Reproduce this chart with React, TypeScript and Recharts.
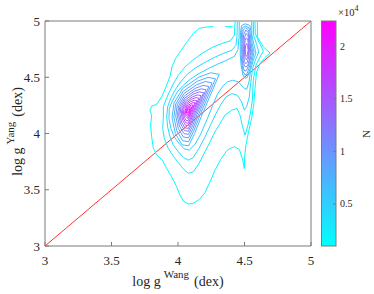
import React from 'react';
import { ScatterChart, Scatter, XAxis, YAxis, ReferenceLine } from 'recharts';

const FONT = "'Liberation Serif', 'Times New Roman', Tinos, 'DejaVu Serif', serif";
const AXIS_COLOR = '#7a7a7a';
const TEXT_COLOR = '#262626';

const X_TICKS = [3, 3.5, 4, 4.5, 5];
const Y_TICKS = [3, 3.5, 4, 4.5, 5];
const CB_TICKS = [5000, 10000, 15000, 20000];
const CB_MIN = 1000;
const CB_MAX = 22400;
const DIAGONAL = [{ x: 3, y: 3 }, { x: 5, y: 5 }];

type Pt = [number, number];

// outer contours enclosing both peaks
const c1: Pt[] = [[4.597,4.994],[4.597,4.858],[4.642,4.769],[4.692,4.716],[4.654,4.675],[4.617,4.621],[4.591,4.547],[4.581,4.432],[4.569,4.254],[4.554,4.136],[4.531,4.018],[4.511,3.899],[4.501,3.793],[4.499,3.689],[4.484,3.778],[4.461,3.858],[4.424,3.882],[4.391,3.867],[4.366,3.846],[4.321,3.769],[4.278,3.675],[4.241,3.571],[4.203,3.473],[4.160,3.414],[4.115,3.379],[4.078,3.373],[4.040,3.399],[4.015,3.453],[3.990,3.527],[3.952,3.615],[3.915,3.689],[3.882,3.763],[3.840,3.808],[3.815,3.867],[3.802,3.970],[3.794,4.074],[3.802,4.163],[3.789,4.207],[3.802,4.243],[3.840,4.260],[3.877,4.325],[3.910,4.414],[3.940,4.509],[3.955,4.592],[3.982,4.666],[4.023,4.740],[4.070,4.817],[4.115,4.888],[4.160,4.935],[4.216,4.947],[4.266,4.950]];
const c1b: Pt[] = [[4.353,4.950],[4.411,4.950]];
const c2: Pt[] = [[4.579,4.994],[4.581,4.888],[4.612,4.805],[4.642,4.734],[4.617,4.680],[4.586,4.607],[4.566,4.473],[4.559,4.296],[4.544,4.178],[4.526,4.074],[4.504,3.985],[4.486,4.059],[4.466,4.163],[4.444,4.222],[4.404,4.207],[4.353,4.163],[4.316,4.089],[4.278,4.015],[4.241,3.926],[4.203,3.837],[4.158,3.734],[4.115,3.660],[4.078,3.645],[4.040,3.686],[4.003,3.740],[3.965,3.799],[3.927,3.867],[3.897,3.956],[3.885,4.044],[3.890,4.148],[3.890,4.237],[3.910,4.302],[3.935,4.370],[3.965,4.444],[4.003,4.518],[4.053,4.592],[4.110,4.651],[4.178,4.710],[4.253,4.763],[4.328,4.799],[4.391,4.822],[4.424,4.873],[4.429,4.994]];
const c3: Pt[] = [[4.566,4.994],[4.569,4.873],[4.591,4.793],[4.607,4.725],[4.586,4.666],[4.561,4.577],[4.546,4.444],[4.536,4.325],[4.516,4.237],[4.499,4.207],[4.479,4.281],[4.446,4.340],[4.404,4.355],[4.361,4.325],[4.323,4.260],[4.286,4.178],[4.248,4.083],[4.203,3.970],[4.158,3.867],[4.115,3.787],[4.078,3.763],[4.040,3.787],[4.003,3.837],[3.965,3.896],[3.940,3.970],[3.922,4.059],[3.915,4.148],[3.922,4.237],[3.945,4.311],[3.977,4.385],[4.020,4.459],[4.070,4.527],[4.128,4.580],[4.195,4.627],[4.266,4.672],[4.336,4.710],[4.404,4.740],[4.436,4.784],[4.444,4.873],[4.446,4.994]];
const c4: Pt[] = [[4.554,4.994],[4.556,4.873],[4.574,4.775],[4.586,4.716],[4.566,4.651],[4.546,4.562],[4.534,4.459],[4.516,4.391],[4.491,4.408],[4.454,4.459],[4.411,4.473],[4.371,4.459],[4.336,4.420],[4.296,4.349],[4.261,4.251],[4.221,4.133],[4.173,4.000],[4.128,3.905],[4.085,3.852],[4.045,3.864],[4.008,3.911],[3.972,3.970],[3.947,4.044],[3.932,4.133],[3.935,4.222],[3.960,4.296],[3.995,4.370],[4.040,4.429],[4.095,4.485],[4.158,4.533],[4.228,4.577],[4.296,4.615],[4.366,4.651],[4.424,4.686],[4.451,4.746],[4.459,4.858],[4.461,4.994]];

// main peak (log g ~ 4.07)
const m5: Pt[] = [[4.310,4.525],[4.270,4.415],[4.225,4.290],[4.175,4.150],[4.125,4.000],[4.080,3.890],[4.030,3.900],[3.980,4.000],[3.955,4.140],[3.970,4.270],[4.035,4.400],[4.155,4.500],[4.245,4.540]];
const m6: Pt[] = [[4.282,4.486],[4.247,4.389],[4.207,4.279],[4.163,4.156],[4.119,4.024],[4.079,3.927],[4.035,3.936],[3.991,4.024],[3.969,4.147],[3.983,4.262],[4.040,4.376],[4.145,4.464],[4.225,4.499]];
const m7: Pt[] = [[4.256,4.450],[4.225,4.366],[4.191,4.269],[4.152,4.161],[4.114,4.046],[4.079,3.961],[4.040,3.969],[4.002,4.046],[3.983,4.154],[3.994,4.254],[4.044,4.354],[4.137,4.431],[4.206,4.462]];
const m8: Pt[] = [[4.232,4.418],[4.206,4.344],[4.176,4.260],[4.142,4.166],[4.109,4.066],[4.078,3.992],[4.045,3.999],[4.011,4.066],[3.995,4.160],[4.005,4.247],[4.048,4.334],[4.129,4.401],[4.189,4.428]];
const m9: Pt[] = [[4.211,4.389],[4.188,4.325],[4.162,4.252],[4.133,4.171],[4.104,4.084],[4.078,4.020],[4.049,4.026],[4.020,4.084],[4.005,4.165],[4.014,4.241],[4.052,4.316],[4.121,4.374],[4.174,4.397]];
const m10: Pt[] = [[4.193,4.363],[4.173,4.308],[4.150,4.245],[4.125,4.175],[4.100,4.100],[4.078,4.045],[4.052,4.050],[4.027,4.100],[4.015,4.170],[4.022,4.235],[4.055,4.300],[4.115,4.350],[4.160,4.370]];
const m11: Pt[] = [[4.174,4.337],[4.157,4.290],[4.138,4.238],[4.117,4.179],[4.096,4.116],[4.077,4.070],[4.056,4.074],[4.035,4.116],[4.025,4.175],[4.031,4.229],[4.058,4.284],[4.109,4.326],[4.146,4.343]];
const m12: Pt[] = [[4.157,4.314],[4.143,4.275],[4.128,4.232],[4.110,4.182],[4.093,4.130],[4.077,4.091],[4.059,4.095],[4.042,4.130],[4.033,4.179],[4.038,4.225],[4.061,4.270],[4.103,4.305],[4.135,4.319]];
const m13: Pt[] = [[4.141,4.291],[4.130,4.260],[4.117,4.225],[4.103,4.186],[4.089,4.144],[4.076,4.113],[4.062,4.116],[4.048,4.144],[4.041,4.183],[4.046,4.220],[4.064,4.256],[4.097,4.284],[4.123,4.295]];
const m14: Pt[] = [[4.127,4.272],[4.108,4.220],[4.086,4.156],[4.076,4.132],[4.054,4.156],[4.049,4.187],[4.066,4.244],[4.112,4.275]];
const m15: Pt[] = [[4.113,4.252],[4.099,4.214],[4.083,4.168],[4.076,4.150],[4.060,4.168],[4.056,4.190],[4.069,4.232],[4.102,4.254]];
const m16: Pt[] = [[4.101,4.236],[4.092,4.210],[4.081,4.178],[4.076,4.166],[4.065,4.178],[4.062,4.193],[4.071,4.222],[4.094,4.237]];
const m17: Pt[] = [[4.089,4.220],[4.078,4.188],[4.075,4.181],[4.068,4.196],[4.073,4.212],[4.085,4.220]];

// right peak (log g ~ 4.52), closed below the top edge
const r5: Pt[] = [[4.505,4.975],[4.540,4.96],[4.550,4.90],[4.558,4.80],[4.572,4.72],[4.558,4.65],[4.540,4.57],[4.522,4.50],[4.505,4.49],[4.488,4.52],[4.475,4.60],[4.468,4.70],[4.468,4.80],[4.470,4.90],[4.478,4.96]];
const r6: Pt[] = [[4.507,4.955],[4.534,4.94],[4.542,4.90],[4.550,4.80],[4.562,4.72],[4.550,4.65],[4.534,4.58],[4.518,4.53],[4.504,4.52],[4.490,4.55],[4.480,4.62],[4.475,4.70],[4.475,4.80],[4.478,4.90],[4.484,4.94]];
const r7: Pt[] = [[4.508,4.94],[4.530,4.92],[4.536,4.88],[4.543,4.80],[4.553,4.72],[4.543,4.66],[4.529,4.60],[4.515,4.56],[4.503,4.555],[4.492,4.58],[4.484,4.64],[4.481,4.72],[4.482,4.80],[4.485,4.88],[4.490,4.92]];
const r8: Pt[] = [[4.510,4.92],[4.526,4.90],[4.534,4.85],[4.545,4.76],[4.546,4.72],[4.538,4.66],[4.525,4.61],[4.512,4.59],[4.500,4.60],[4.490,4.65],[4.487,4.72],[4.488,4.80],[4.494,4.88]];
const r9: Pt[] = [[4.512,4.89],[4.526,4.87],[4.532,4.82],[4.538,4.75],[4.532,4.68],[4.521,4.635],[4.510,4.62],[4.499,4.64],[4.493,4.70],[4.494,4.78],[4.499,4.85]];
const r10: Pt[] = [[4.514,4.85],[4.525,4.83],[4.530,4.78],[4.532,4.73],[4.525,4.68],[4.514,4.655],[4.504,4.67],[4.500,4.72],[4.501,4.79],[4.505,4.83]];
const r11: Pt[] = [[4.516,4.80],[4.524,4.785],[4.527,4.74],[4.522,4.70],[4.514,4.685],[4.507,4.70],[4.506,4.75],[4.509,4.785]];

const CONTOURS: { pts: Pt[]; level: number; closed: boolean }[] = [
  { pts: c1, level: 1300, closed: false },
  { pts: c1b, level: 1300, closed: false },
  { pts: c2, level: 2600, closed: false },
  { pts: c3, level: 3900, closed: false },
  { pts: c4, level: 5200, closed: false },
  { pts: r5, level: 6500, closed: true },
  { pts: r6, level: 7800, closed: true },
  { pts: r7, level: 9100, closed: true },
  { pts: r8, level: 10400, closed: true },
  { pts: r9, level: 11700, closed: true },
  { pts: r10, level: 13000, closed: true },
  { pts: r11, level: 14300, closed: true },
  { pts: m5, level: 6500, closed: true },
  { pts: m6, level: 7800, closed: true },
  { pts: m7, level: 9100, closed: true },
  { pts: m8, level: 10400, closed: true },
  { pts: m9, level: 11700, closed: true },
  { pts: m10, level: 13000, closed: true },
  { pts: m11, level: 14300, closed: true },
  { pts: m12, level: 15600, closed: true },
  { pts: m13, level: 16900, closed: true },
  { pts: m14, level: 18200, closed: true },
  { pts: m15, level: 19500, closed: true },
  { pts: m16, level: 20800, closed: true },
  { pts: m17, level: 22100, closed: true },
];

const cool = (level: number) => {
  const t = Math.max(0, Math.min(1, (level - CB_MIN) / (CB_MAX - CB_MIN)));
  return `rgb(${Math.round(255 * t)},${Math.round(255 * (1 - t))},255)`;
};

const noShape = () => <g />;

const fmt = (v: number) => String(v);

const renderXLabel = (props: any) => {
  const vb = props && props.viewBox ? props.viewBox : { x: 45, y: 246, width: 266, height: 30 };
  return (
    <text x={vb.x + vb.width / 2} y={vb.y + 39.5} textAnchor="middle" fontFamily={FONT} style={{ fontFamily: FONT }} fontSize={14} fill={TEXT_COLOR}>
      log g
      <tspan dx={3} dy={-8} fontSize={11}>Wang</tspan>
      <tspan dx={5} dy={8} fontSize={14}>(dex)</tspan>
    </text>
  );
};

const renderYLabel = (props: any) => {
  const vb = props && props.viewBox ? props.viewBox : { x: 0, y: 21, width: 45, height: 225 };
  const x = vb.x + 22;
  const y = vb.y + vb.height / 2 - 2;
  return (
    <text x={x} y={y} transform={`rotate(-90, ${x}, ${y})`} textAnchor="middle" fontFamily={FONT} style={{ fontFamily: FONT }} fontSize={14} fill={TEXT_COLOR}>
      log g
      <tspan dx={3} dy={-8} fontSize={11}>Yang</tspan>
      <tspan dx={5} dy={8} fontSize={14}>(dex)</tspan>
    </text>
  );
};

const renderCbTick = (props: any) => {
  const { x, y, payload } = props;
  return (
    <g>
      <line x1={x + 12} x2={x + 15} y1={y} y2={y} stroke={AXIS_COLOR} strokeWidth={1} />
      <text x={x + 19} y={y} dy="0.35em" fontFamily={FONT} style={{ fontFamily: FONT }} fontSize={10} fill={TEXT_COLOR}>
        {String(payload.value / 10000)}
      </text>
    </g>
  );
};

export default function App() {
  const tickStyle = { fontFamily: FONT, fontSize: 13, fill: TEXT_COLOR, style: { fontFamily: FONT } };
  return (
    <div style={{ position: 'absolute', left: 0, top: 0, width: 374, height: 294, background: '#fff', overflow: 'hidden' }}>
      {/* colour bar body (cool colormap) and its titles; sits under the chart so the colour-bar ticks draw over it */}
      <svg width={374} height={294} style={{ position: 'absolute', left: 0, top: 0 }}>
        <defs>
          <linearGradient id="coolGrad" x1="0" y1="1" x2="0" y2="0">
            <stop offset="0" stopColor="rgb(0,255,255)" />
            <stop offset="1" stopColor="rgb(255,0,255)" />
          </linearGradient>
        </defs>
        <rect x={321.5} y={21} width={14.5} height={225} fill="url(#coolGrad)" stroke={AXIS_COLOR} strokeWidth={1} />
        <g fontFamily={FONT} style={{ fontFamily: FONT }} fill={TEXT_COLOR}>
          <text x={338} y={16} fontSize={10.5}>
            ×10<tspan dy={-5} fontSize={8}>4</tspan>
          </text>
          <text x={370} y={134} transform="rotate(-90, 370, 134)" textAnchor="middle" fontSize={11}>N</text>
        </g>
      </svg>
      <div style={{ position: 'absolute', left: 0, top: 0 }}>
        <ScatterChart width={374} height={294} margin={{ top: 11, right: 0, bottom: 18, left: 0 }}>
          <XAxis
            dataKey="x" type="number" domain={[3, 5]} ticks={X_TICKS} tickFormatter={fmt}
            height={30} tickSize={-4} tickMargin={14} tick={tickStyle}
            axisLine={{ stroke: AXIS_COLOR }} tickLine={{ stroke: AXIS_COLOR }}
            allowDataOverflow label={renderXLabel}
          />
          <XAxis
            xAxisId="axisTop" orientation="top" dataKey="x" type="number" domain={[3, 5]} ticks={X_TICKS}
            height={10} tickSize={-4} tick={false}
            axisLine={{ stroke: AXIS_COLOR }} tickLine={{ stroke: AXIS_COLOR }} allowDataOverflow
          />
          <YAxis
            dataKey="y" type="number" domain={[3, 5]} ticks={Y_TICKS} tickFormatter={fmt}
            width={45} tickSize={-4} tickMargin={9} tick={tickStyle}
            axisLine={{ stroke: AXIS_COLOR }} tickLine={{ stroke: AXIS_COLOR }}
            allowDataOverflow label={renderYLabel}
          />
          <YAxis
            yAxisId="axisA" orientation="right" dataKey="y" type="number" domain={[3, 5]} ticks={Y_TICKS}
            width={10} tickSize={-4} tick={false}
            axisLine={{ stroke: AXIS_COLOR }} tickLine={{ stroke: AXIS_COLOR }} allowDataOverflow
          />
          <YAxis
            yAxisId="axisB" orientation="right" type="number" domain={[CB_MIN, CB_MAX]} ticks={CB_TICKS}
            width={53} tickSize={0} tickMargin={0} axisLine={false} tickLine={false}
            tick={renderCbTick} allowDataOverflow
          />
          {CONTOURS.map((c, i) => {
            const data = (c.closed ? [...c.pts, c.pts[0]] : c.pts).map(([x, y]) => ({ x, y }));
            return (
              <Scatter
                key={i}
                data={data}
                line={{ stroke: cool(c.level), strokeWidth: 1 }}
                lineJointType="linear"
                shape={noShape}
                fill="none"
                isAnimationActive={false}
              />
            );
          })}
          <ReferenceLine segment={DIAGONAL} stroke="#ff0000" strokeWidth={0.8} />
        </ScatterChart>
      </div>
    </div>
  );
}
